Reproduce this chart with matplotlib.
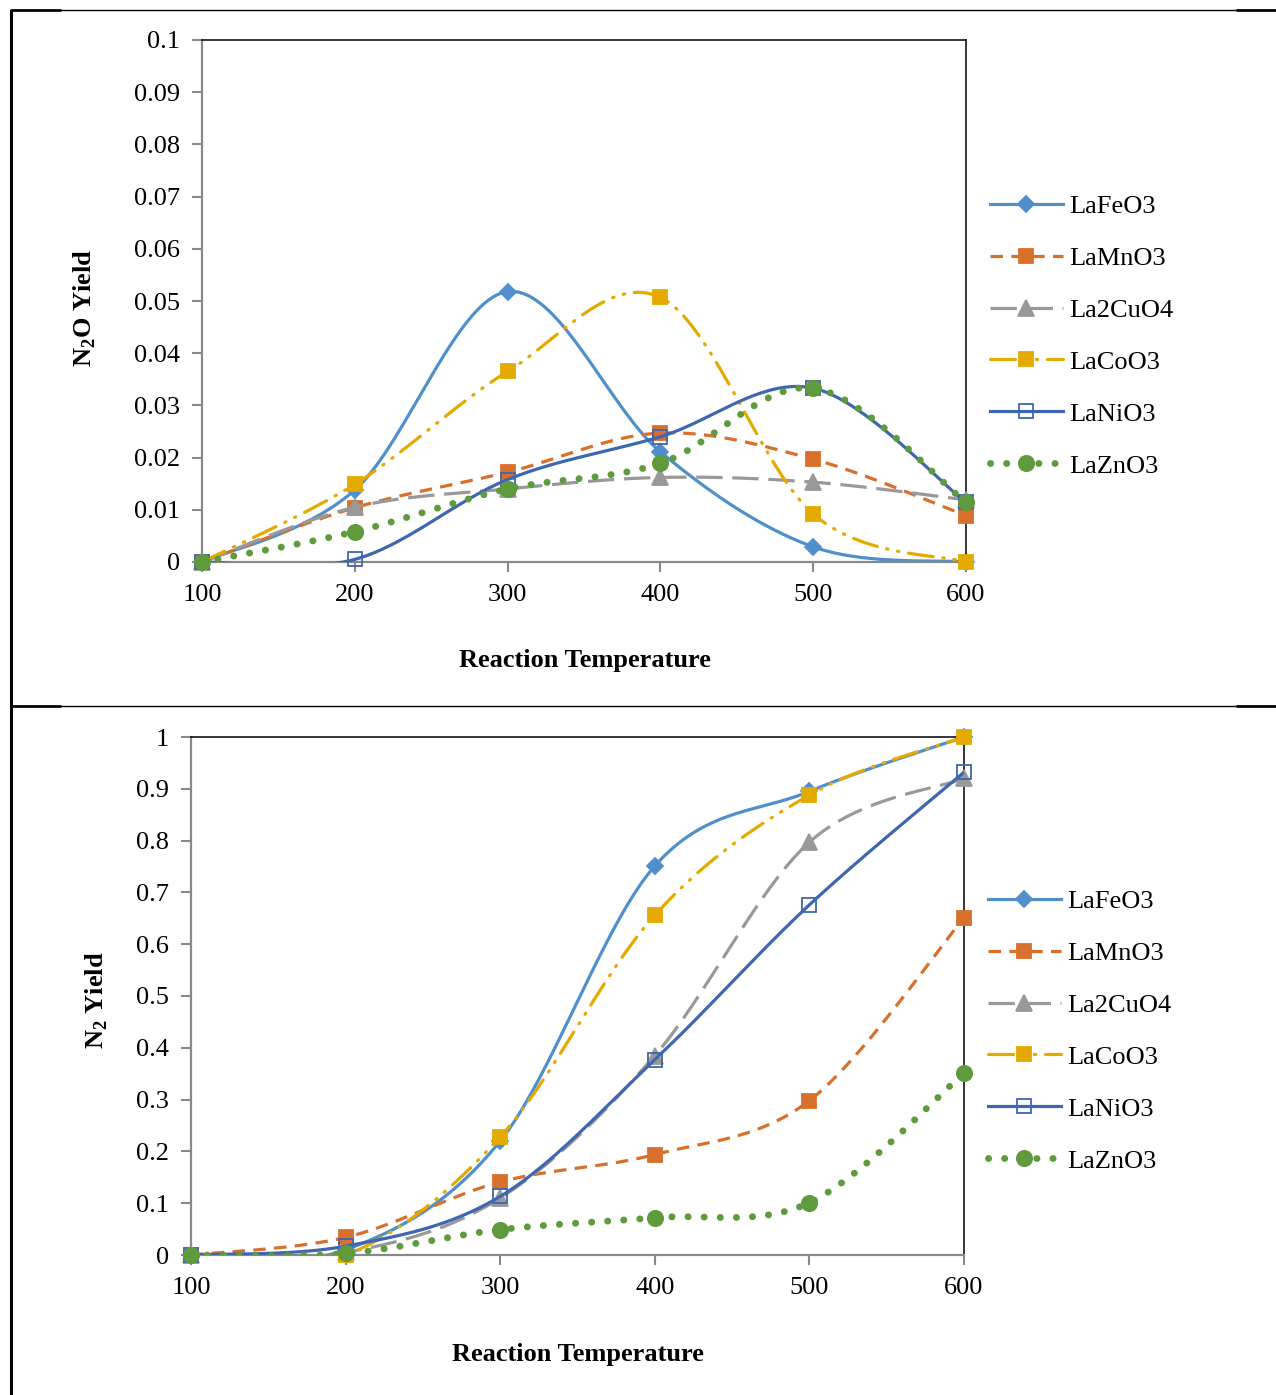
import numpy as np
import matplotlib
matplotlib.use('Agg')
import matplotlib.pyplot as plt
from matplotlib.lines import Line2D
from matplotlib.ticker import MultipleLocator, FuncFormatter

temps = [100, 200, 300, 400, 500, 600]
names = ['LaFeO3', 'LaMnO3', 'La2CuO4', 'LaCoO3', 'LaNiO3', 'LaZnO3']

# N2O yield (top panel)
n2o_lafeo3 = [0, 0.0138, 0.0518, 0.0211, 0.0029, 0]
n2o_lamno3 = [0, 0.0104, 0.0172, 0.0247, 0.0197, 0.0089]
n2o_la2cuo4 = [0, 0.0105, 0.0140, 0.0162, 0.0153, 0.0119]
n2o_lacoo3 = [0, 0.0149, 0.0365, 0.0507, 0.0092, 0]
n2o_lanio3 = [0, 0.0005, 0.0158, 0.0240, 0.0333, 0.0114]
n2o_lazno3 = [0, 0.0058, 0.0140, 0.0189, 0.0333, 0.0114]

# N2 yield (bottom panel)
n2_lafeo3 = [0, 0.010, 0.220, 0.751, 0.895, 1.0]
n2_lamno3 = [0, 0.034, 0.141, 0.194, 0.298, 0.651]
n2_la2cuo4 = [0, 0.005, 0.110, 0.385, 0.797, 0.920]
n2_lacoo3 = [0, 0.0, 0.228, 0.656, 0.888, 1.0]
n2_lanio3 = [0, 0.017, 0.113, 0.377, 0.676, 0.932]
n2_lazno3 = [0, 0.003, 0.049, 0.072, 0.101, 0.351]

plt.rcParams['font.family'] = ['Liberation Serif', 'DejaVu Serif']
plt.rcParams['mathtext.fontset'] = 'custom'
plt.rcParams['mathtext.rm'] = 'Liberation Serif'
plt.rcParams['mathtext.bf'] = 'Liberation Serif:bold'
plt.rcParams['lines.scale_dashes'] = False

FS = 19

# line styles per series: color, linestyle, linewidth, marker, markersize, facecolor, capstyle
styles = [
    dict(color='#4F90CC', ls='-', lw=2.3, marker='D', ms=8, mfc='#4F90CC', cap='butt'),
    dict(color='#D86F2B', ls=(0, (9, 6)), lw=2.3, marker='s', ms=10, mfc='#D86F2B', cap='butt'),
    dict(color='#999999', ls=(0, (19, 7)), lw=2.3, marker='^', ms=11, mfc='#999999', cap='butt'),
    dict(color='#E5AA00', ls=(0, (18, 7, 1, 7, 1, 7)), lw=2.3, marker='s', ms=10, mfc='#E5AA00', cap='round'),
    dict(color='#3E66B1', ls='-', lw=2.3, marker='s', ms=10, mfc='none', cap='butt'),
    dict(color='#5F9A3D', ls=(0, (0.1, 11.5)), lw=5, marker='o', ms=11, mfc='#5F9A3D', cap='round'),
]


def smooth(x, y, n=40):
    # Excel-like smoothed line: Bezier segments with tangents (P[i+1]-P[i-1])/6
    p = np.column_stack([x, y]).astype(float)
    pts = np.vstack([p[0], p, p[-1]])
    out = []
    t = np.linspace(0, 1, n)[:, None]
    for i in range(1, len(pts) - 2):
        p0, p1 = pts[i], pts[i + 1]
        c1 = p0 + (pts[i + 1] - pts[i - 1]) / 6
        c2 = p1 - (pts[i + 2] - pts[i]) / 6
        seg = ((1 - t) ** 3) * p0 + 3 * ((1 - t) ** 2) * t * c1 + 3 * (1 - t) * t ** 2 * c2 + t ** 3 * p1
        out.append(seg if i == 1 else seg[1:])
    out = np.vstack(out)
    return out[:, 0], out[:, 1]


def draw_panel(ax, series, ymax, ystep, ylabel, xlabel_pos, ylabel_pos, legend_pos):
    for k, (vals, st) in enumerate(zip(series, styles)):
        sx, sy = smooth(temps, vals)
        ax.plot(sx, sy, color=st['color'], ls=st['ls'], lw=st['lw'],
                dash_capstyle=st['cap'], solid_capstyle='butt', zorder=2 + k)
        ax.plot(temps, vals, ls='none', marker=st['marker'], ms=st['ms'],
                mfc=st['mfc'], mec=st['color'], mew=1.3, zorder=2 + k, clip_on=False)
    ax.set_xlim(100, 600)
    ax.set_ylim(0, ymax)
    ax.xaxis.set_major_locator(MultipleLocator(100))
    ax.yaxis.set_major_locator(MultipleLocator(ystep))
    ax.yaxis.set_major_formatter(FuncFormatter(lambda v, p: '%g' % round(v, 4)))
    ax.tick_params(direction='out', length=7, width=1.5, color='#898989',
                   labelsize=FS, pad=9)
    for s in ['left', 'bottom']:
        ax.spines[s].set_color('#898989')
        ax.spines[s].set_linewidth(1.6)
    for s in ['top', 'right']:
        ax.spines[s].set_color('black')
        ax.spines[s].set_linewidth(1.1)

    fig.text(xlabel_pos[0] / W, 1 - xlabel_pos[1] / H, 'Reaction Temperature',
             fontsize=FS, fontweight='bold', ha='center', va='center')
    fig.text(ylabel_pos[0] / W, 1 - ylabel_pos[1] / H, ylabel,
             fontsize=FS, fontweight='bold', ha='center', va='center', rotation=90)

    handles = []
    for st in styles:
        handles.append(Line2D([], [], color=st['color'], ls=st['ls'], lw=st['lw'],
                              dash_capstyle=st['cap'], marker=st['marker'], ms=st['ms'],
                              mfc=st['mfc'], mec=st['color'], mew=1.3))
    ax.legend(handles, names, loc='center left', frameon=False, fontsize=FS,
              bbox_to_anchor=(legend_pos[0] / W, 1 - legend_pos[1] / H),
              bbox_transform=fig.transFigure, borderpad=0, borderaxespad=0,
              handlelength=2.75, handletextpad=0.25, labelspacing=1.08, numpoints=1)


W, H = 1276, 1395
fig = plt.figure(figsize=(W / 100, H / 100), dpi=100)

ax1 = fig.add_axes([202 / W, 1 - 562 / H, (966 - 202) / W, (562 - 40) / H])
draw_panel(ax1, [n2o_lafeo3, n2o_lamno3, n2o_la2cuo4, n2o_lacoo3, n2o_lanio3, n2o_lazno3],
           0.1, 0.01, r'N$_\mathbf{2}$O Yield', (585, 661), (85, 308), (990, 336))

ax2 = fig.add_axes([191 / W, 1 - 1255 / H, (964 - 191) / W, (1255 - 737) / H])
draw_panel(ax2, [n2_lafeo3, n2_lamno3, n2_la2cuo4, n2_lacoo3, n2_lanio3, n2_lazno3],
           1.0, 0.1, r'N$_\mathbf{2}$ Yield', (578, 1355), (97, 1000), (988, 1031))


# table-like frame lines around the two panels
def frame_line(x0, x1, y0, y1, lw):
    fig.add_artist(Line2D([x0 / W, x1 / W], [1 - y0 / H, 1 - y1 / H],
                          transform=fig.transFigure, color='black', lw=lw,
                          solid_capstyle='butt'))


frame_line(11, 11, 9, H, 2.2)
for yy in [10, 706]:
    frame_line(11, W, yy, yy, 1.0)
    frame_line(11, 61, yy, yy, 1.9)
    frame_line(1236, W, yy, yy, 1.9)

fig.savefig('out.png', dpi=100)
